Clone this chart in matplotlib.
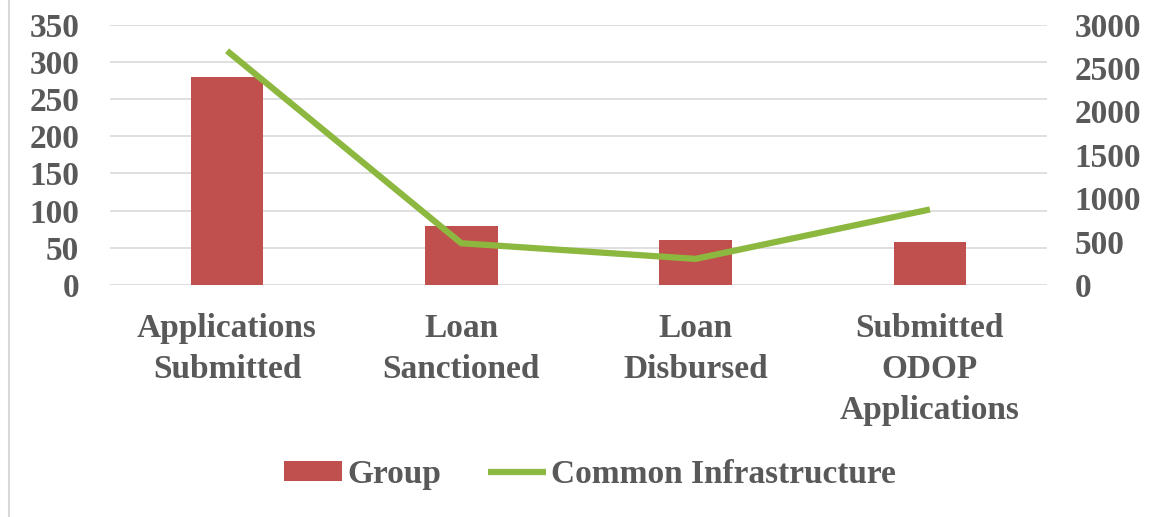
import matplotlib
matplotlib.use("Agg")
import matplotlib.pyplot as plt
from matplotlib.patches import Rectangle
import numpy as np

categories = ["Applications\nSubmitted", "Loan\nSanctioned", "Loan\nDisbursed", "Submitted\nODOP\nApplications"]
group_values = [280, 79, 61, 58]
infra_values = [2700, 480, 300, 870]
left_ticks = [0, 50, 100, 150, 200, 250, 300, 350]
right_ticks = [0, 500, 1000, 1500, 2000, 2500, 3000]

plt.rcParams['font.family'] = ['Liberation Serif', 'DejaVu Serif']
plt.rcParams['font.weight'] = 'bold'
text_color = '#595959'
bar_color = '#C0504D'
line_color = '#8DB83F'
fs = 24

fig = plt.figure(figsize=(11.57, 5.17), dpi=100)
ax = fig.add_axes([0.095, 0.449, 0.81, 0.503])
ax2 = ax.twinx()

x = np.arange(len(categories))
ax.bar(x, group_values, width=0.31, color=bar_color, zorder=2, label='Group')
ax2.plot(x, infra_values, color=line_color, lw=4.5, zorder=3, label='Common Infrastructure',
         solid_capstyle='butt')

ax.set_xlim(-0.5, 3.5)
ax.set_ylim(0, 350)
ax2.set_ylim(0, 3000)
ax.set_yticks(left_ticks)
ax2.set_yticks(right_ticks)
ax.grid(axis='y', color='#D9D9D9', lw=1.2, zorder=0)
ax.set_axisbelow(True)
for a in (ax, ax2):
    for s in a.spines.values():
        s.set_visible(False)
    a.tick_params(length=0, labelsize=fs, colors=text_color)
    for lab in a.get_yticklabels():
        lab.set_fontweight('bold')
ax.tick_params(axis='y', pad=22)
ax2.tick_params(axis='y', pad=20)
ax.set_xticks(x)
ax.set_xticklabels(categories, fontsize=fs, fontweight='bold', color=text_color, linespacing=1.42)
ax.tick_params(axis='x', pad=20)

h1, l1 = ax.get_legend_handles_labels()
h2, l2 = ax2.get_legend_handles_labels()
leg = fig.legend(h1 + h2, l1 + l2, loc='center', bbox_to_anchor=(0.51, 0.082), ncol=2, frameon=False,
                 prop={'family': 'Liberation Serif', 'weight': 'bold', 'size': fs},
                 handlelength=1.75, handleheight=0.55, handletextpad=0.15, columnspacing=1.4)
for t in leg.get_texts():
    t.set_color(text_color)

fig.add_artist(Rectangle((0.008, -0.01), 1.5, 1.5, transform=fig.transFigure, fill=False,
                         edgecolor='#D9D9D9', lw=1.5))

fig.savefig("out.png", dpi=100)
